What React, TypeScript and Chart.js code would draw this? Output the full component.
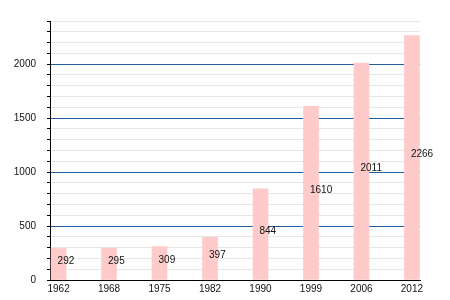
import React, { useEffect, useRef } from "react";
import { Chart, registerables } from "chart.js";

Chart.register(...registerables);

const years = ["1962", "1968", "1975", "1982", "1990", "1999", "2006", "2012"];
const population = [292, 295, 309, 397, 844, 1610, 2011, 2266];
const yMax = 2400;

const valueLabels = {
  id: "valueLabels",
  afterDatasetsDraw(chart: any) {
    const ctx = chart.ctx;
    const meta = chart.getDatasetMeta(0);
    ctx.save();
    ctx.font = "10px 'Liberation Sans', Arial, sans-serif";
    ctx.fillStyle = "#111";
    ctx.textAlign = "left";
    ctx.textBaseline = "alphabetic";
    meta.data.forEach((bar: any, i: number) => {
      const y = (bar.y + bar.base) / 2;
      ctx.fillText(String(population[i]), bar.x - 1, y);
    });
    ctx.restore();
  },
};

export default function App() {
  const ref = useRef<HTMLCanvasElement>(null);
  useEffect(() => {
    if (!ref.current) return;
    const chart = new Chart(ref.current, {
      type: "bar",
      data: {
        datasets: [
          {
            data: population.map((v, i) => ({ x: i, y: v })),
            backgroundColor: "#ffcaca",
            barThickness: 15,
          },
        ],
      },
      options: {
        animation: false,
        responsive: false,
        layout: { padding: { left: 0, right: 30, top: 21, bottom: 0 } },
        plugins: { legend: { display: false }, tooltip: { enabled: false } },
        scales: {
          x: {
            type: "linear",
            offset: false,
            min: -0.17,
            max: 7.16,
            afterBuildTicks: (scale: any) => {
              scale.ticks = years.map((_, i) => ({ value: i }));
            },
            afterFit: (scale: any) => {
              scale.height = 20;
            },
            ticks: {
              autoSkip: false,
              maxRotation: 0,
              padding: 3,
              color: "#111",
              font: { family: "'Liberation Sans', Arial, sans-serif", size: 10 },
              callback: (v: any) => years[Math.round(v)] ?? "",
            },
            grid: { display: false, drawTicks: false },
            border: { color: "#000", width: 1 },
          },
          y: {
            min: 0,
            max: yMax,
            afterBuildTicks: (scale: any) => {
              const t = [];
              for (let v = 0; v <= yMax; v += 100) t.push({ value: v });
              scale.ticks = t;
            },
            afterFit: (scale: any) => {
              scale.width = 50;
            },
            ticks: {
              autoSkip: false,
              padding: 11,
              color: "#111",
              font: { family: "'Liberation Sans', Arial, sans-serif", size: 10 },
              callback: (v: any) => (v % 500 === 0 ? String(v) : ""),
            },
            grid: {
              color: (c: any) =>
                c.tick && c.tick.value % 500 === 0 && c.tick.value !== 0
                  ? "#1f5f9f"
                  : "#e6e6e6",
              tickColor: "#000",
              tickLength: 3,
              lineWidth: 1,
            },
            border: { color: "#000", width: 1 },
          },
        },
      },
      plugins: [valueLabels],
    });
    return () => chart.destroy();
  }, []);
  return (
    <div style={{ position: "absolute", left: 0, top: 0, width: 450, height: 300 }}>
      <canvas ref={ref} width={450} height={300} />
    </div>
  );
}
